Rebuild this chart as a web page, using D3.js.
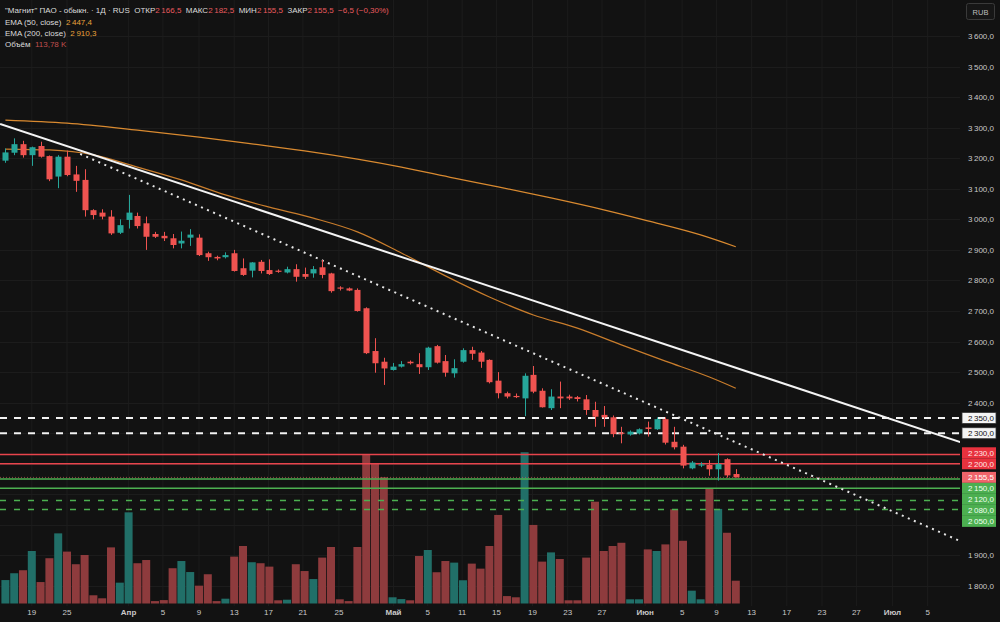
<!DOCTYPE html>
<html>
<head>
<meta charset="utf-8">
<script src="https://cdn.jsdelivr.net/npm/d3@7"></script>
<style>
  body { margin: 0; background: #121212; }
  svg { display: block; }
  text { font-family: "Liberation Sans", Arial, sans-serif; }
</style>
</head>
<body>
<div id="chart"></div>
<script>
// daily bars (index 0 = first visible bar)
const opens  = [3192,3218,3246,3210,3240,3207,3140,3205,3147,3129,3030,3022,3009,2956,2998,3011,2987,2952,2946,2938,2921,2940,2940,2889,2877,2876,2889,2840,2832,2861,2834,2832,2826,2837,2821,2823,2843,2823,2777,2774,2769,2709,2569,2534,2507,2518,2534,2526,2516,2585,2536,2496,2534,2572,2564,2540,2472,2431,2422,2414,2491,2439,2382,2420,2420,2418,2411,2376,2360,2352,2302,2296,2299,2319,2313,2346,2272,2256,2185,2196,2196,2182,2215,2166.5];
const highs  = [3232,3265,3257,3238,3254,3209,3210,3225,3175,3164,3033,3033,3030,3000,3080,3022,3009,2959,2959,2952,2960,2968,2951,2894,2881,2892,2900,2872,2860,2867,2869,2836,2845,2853,2842,2847,2867,2825,2781,2777,2774,2712,2611,2547,2530,2536,2538,2562,2583,2589,2556,2542,2578,2583,2569,2542,2500,2436,2430,2496,2520,2447,2444,2469,2426,2422,2425,2403,2389,2358,2321,2309,2316,2338,2352,2352,2321,2262,2209,2205,2212,2235,2218,2182.5];
const lows   = [3185,3210,3202,3175,3202,3125,3102,3141,3090,3009,3000,3000,2949,2952,2970,2970,2900,2939,2929,2905,2905,2913,2880,2864,2866,2872,2829,2815,2810,2823,2818,2825,2823,2796,2805,2809,2807,2760,2767,2765,2698,2559,2498,2458,2505,2515,2525,2494,2507,2528,2485,2482,2531,2540,2514,2463,2414,2414,2415,2356,2431,2384,2376,2382,2409,2404,2360,2321,2321,2287,2267,2292,2296,2289,2311,2263,2247,2185,2182,2189,2161,2145,2155,2155.5];
const closes = [3219,3246,3210,3236,3205,3131,3205,3145,3126,3030,3014,3009,2954,2981,3022,2978,2943,2943,2938,2916,2930,2950,2883,2876,2872,2883,2831,2818,2859,2831,2821,2829,2837,2812,2812,2837,2818,2765,2774,2767,2700,2562,2529,2512,2518,2526,2529,2516,2580,2531,2498,2513,2572,2560,2534,2467,2431,2420,2420,2488,2436,2385,2420,2414,2414,2412,2376,2354,2352,2297,2300,2305,2313,2314,2346,2269,2254,2194,2204,2198,2182,2199,2162,2155.5];
// volume, thousands of shares
const volumes = [117,151,166,262,107,226,350,259,196,242,41,26,280,104,455,201,217,12,17,176,212,157,89,146,12,24,234,287,206,201,184,16,19,196,162,122,229,282,21,12,282,741,700,630,31,22,16,237,267,156,212,204,116,199,174,287,442,37,31,755,392,209,255,222,16,16,229,508,262,287,303,21,21,270,262,295,470,313,64,21,575,472,353,113.78];

// moving averages read at a few bars
const ema50Idx   = [0,5,10,15,20,25,30,35,40,45,50,55,60,65,70,75,80,83];
const ema50Vals  = [3230,3227,3211,3171,3129,3080,3040,3004,2959,2890,2815,2746,2687,2644,2589,2536,2484,2447.4];
const ema200Idx  = [0,7,15,22,28,34,40,45,51,56,62,68,73,79,83];
const ema200Vals = [3325,3315,3292,3269,3247,3224,3197,3171,3135,3106,3070,3031,2995,2949,2910.3];

// drawn levels and trend lines
const resistDashed = [2350, 2300];
const resistSolid  = [2230, 2200];
const supportSolid = [2150, 2120];
const supportDashed = [2080, 2050];
const trendSolid  = [[-0.6, 3312], [108.5, 2271]];
const trendDotted = [[8.5, 3214], [108.5, 1947]];

// axes
const priceTicks = [3600,3500,3400,3300,3200,3100,3000,2900,2800,2700,2600,2500,2400,1900,1800];
const gridPrices = [3600,3500,3400,3300,3200,3100,3000,2900,2800,2700,2600,2500,2400,2300,2200,2100,2000,1900,1800];
const dateLabels = ["19","25","Апр","5","9","13","17","21","25","Май","5","11","15","19","23","27","Июн","5","9","13","17","23","27","Июл","5"];
const dateIdx    = [3.0,7.0,14.0,17.9,22.0,26.0,29.9,33.8,37.9,44.1,48.0,51.9,55.8,59.9,63.9,67.8,72.7,76.9,80.8,84.8,88.8,92.8,96.7,100.8,104.8];
const monthLabels = ["Апр","Май","Июн","Июл"];

const W = 1000, H = 622;
const plotW = 960, plotH = 606;
const UP = "#26a69a", DOWN = "#ef5350";
const VOL_UP = "#216f68", VOL_DOWN = "#8e3b3d";
const LVL_RED = "#e8444c", LVL_GREEN = "#4caf50";

const loc = d3.formatLocale({ decimal: ",", thousands: "\u2009", grouping: [3], minus: "\u2212" });
const fmt = loc.format(",.1f");

const x = d3.scaleLinear().domain([-0.614, 108.48]).range([0, plotW]);
const y = d3.scaleLinear().domain([1800, 3600]).range([586, 36]);
const yVol = d3.scaleLinear().domain([0, 760]).range([603.5, 451.2]);

const svg = d3.select("#chart").append("svg")
  .attr("width", W).attr("height", H)
  .attr("viewBox", `0 0 ${W} ${H}`);

svg.append("rect").attr("width", W).attr("height", H).attr("fill", "#121212");

svg.append("clipPath").attr("id", "plot-clip")
  .append("rect").attr("width", plotW).attr("height", plotH);

const plot = svg.append("g").attr("clip-path", "url(#plot-clip)");

// grid
plot.selectAll(".vgrid").data(dateIdx).enter().append("line")
  .attr("x1", d => x(d)).attr("x2", d => x(d))
  .attr("y1", 0).attr("y2", plotH)
  .attr("stroke", "#1c1c1c").attr("stroke-width", 1);
plot.selectAll(".hgrid").data(gridPrices).enter().append("line")
  .attr("x1", 0).attr("x2", plotW)
  .attr("y1", d => Math.round(y(d)) + 0.5).attr("y2", d => Math.round(y(d)) + 0.5)
  .attr("stroke", "#1c1c1c").attr("stroke-width", 1);

const bars = closes.map((c, i) => ({ i, o: opens[i], h: highs[i], l: lows[i], c, v: volumes[i] }));

// volume
plot.selectAll(".vol").data(bars).enter().append("rect")
  .attr("x", d => x(d.i) - 4).attr("width", 8)
  .attr("y", d => yVol(d.v))
  .attr("height", d => yVol(0) - yVol(d.v))
  .attr("fill", d => d.c >= d.o ? VOL_UP : VOL_DOWN);

// horizontal levels
function levels(vals, color, dash, width) {
  plot.selectAll(null).data(vals).enter().append("line")
    .attr("x1", 0).attr("x2", plotW)
    .attr("y1", d => y(d)).attr("y2", d => y(d))
    .attr("stroke", color).attr("stroke-width", width)
    .attr("stroke-dasharray", dash);
}
levels(resistDashed, "#f2f2f2", "7,7", 2);
levels(resistSolid, LVL_RED, null, 1.5);
levels(supportSolid, LVL_GREEN, null, 1.5);
levels(supportDashed, LVL_GREEN, "6,8", 1.5);

// last price line
const lastPrice = closes[closes.length - 1];
plot.append("line")
  .attr("x1", 0).attr("x2", plotW)
  .attr("y1", y(lastPrice)).attr("y2", y(lastPrice))
  .attr("stroke", "#c85a5a").attr("stroke-width", 1)
  .attr("stroke-dasharray", "1,2").attr("opacity", 0.7);

// EMAs
const emaLine = d3.line().x(d => x(d[0])).y(d => y(d[1])).curve(d3.curveMonotoneX);
plot.append("path")
  .datum(ema200Idx.map((d, k) => [d, ema200Vals[k]]))
  .attr("d", emaLine).attr("fill", "none")
  .attr("stroke", "#d98a30").attr("stroke-width", 1.2);
plot.append("path")
  .datum(ema50Idx.map((d, k) => [d, ema50Vals[k]]))
  .attr("d", emaLine).attr("fill", "none")
  .attr("stroke", "#c97d2c").attr("stroke-width", 1.2);

// trend lines
plot.append("line")
  .attr("x1", x(trendSolid[0][0])).attr("y1", y(trendSolid[0][1]))
  .attr("x2", x(trendSolid[1][0])).attr("y2", y(trendSolid[1][1]))
  .attr("stroke", "#f4f4f4").attr("stroke-width", 2);
plot.append("line")
  .attr("x1", x(trendDotted[0][0])).attr("y1", y(trendDotted[0][1]))
  .attr("x2", x(trendDotted[1][0])).attr("y2", y(trendDotted[1][1]))
  .attr("stroke", "#e6e6e6").attr("stroke-width", 2)
  .attr("stroke-dasharray", "2,4.6");

// candles
const candle = plot.selectAll(".candle").data(bars).enter().append("g");
candle.append("line")
  .attr("x1", d => Math.round(x(d.i)) + 0.5).attr("x2", d => Math.round(x(d.i)) + 0.5)
  .attr("y1", d => y(d.h)).attr("y2", d => y(d.l))
  .attr("stroke", d => d.c >= d.o ? UP : DOWN).attr("stroke-width", 1);
candle.append("rect")
  .attr("x", d => Math.round(x(d.i)) - 2.5).attr("width", 6)
  .attr("y", d => y(Math.max(d.o, d.c)))
  .attr("height", d => Math.max(1.2, Math.abs(y(d.o) - y(d.c))))
  .attr("fill", d => d.c >= d.o ? UP : DOWN);

// price axis labels
svg.selectAll(".ptick").data(priceTicks).enter().append("text")
  .attr("x", 994).attr("y", d => y(d) + 3)
  .attr("text-anchor", "end").attr("font-size", 8)
  .attr("fill", "#c9c9c9")
  .text(d => fmt(d));

// date labels
svg.selectAll(".dtick").data(dateLabels).enter().append("text")
  .attr("x", (d, k) => x(dateIdx[k])).attr("y", 615)
  .attr("text-anchor", "middle").attr("font-size", 8)
  .attr("font-weight", d => monthLabels.includes(d) ? "bold" : null)
  .attr("fill", "#c9c9c9")
  .text(d => d);

// price tags on the right, stacked around the last price
const tagH = 11;
const tags = [
  ...resistDashed.map(p => ({ p, bg: "#f4f4f4", fg: "#111", border: "#333" })),
  ...resistSolid.map(p => ({ p, bg: "#e8323e", fg: "#ffe6e6" })),
  { p: lastPrice, bg: "#f0646a", fg: "#fff", fixed: true },
  ...supportSolid.map(p => ({ p, bg: "#4caf50", fg: "#f0fff0" })),
  ...supportDashed.map(p => ({ p, bg: "#4caf50", fg: "#f0fff0" }))
];
tags.forEach(t => t.ty = y(t.p));
tags.sort((a, b) => a.ty - b.ty);
const fi = tags.findIndex(t => t.fixed);
for (let k = fi + 1; k < tags.length; k++) tags[k].ty = Math.max(tags[k].ty, tags[k - 1].ty + tagH);
for (let k = fi - 1; k >= 0; k--) tags[k].ty = Math.min(tags[k].ty, tags[k + 1].ty - tagH);

const tagG = svg.selectAll(".tag").data(tags).enter().append("g");
tagG.append("rect")
  .attr("x", 962).attr("width", 34)
  .attr("y", d => d.ty - tagH / 2).attr("height", tagH)
  .attr("fill", d => d.bg)
  .attr("stroke", d => d.border || "none").attr("stroke-width", 0.8);
tagG.append("text")
  .attr("x", 994).attr("y", d => d.ty + 3)
  .attr("text-anchor", "end").attr("font-size", 8)
  .attr("fill", d => d.fg)
  .text(d => fmt(d.p));

// currency box
svg.append("rect").attr("x", 966.5).attr("y", 3.5).attr("width", 28).attr("height", 16)
  .attr("rx", 2).attr("fill", "#161616").attr("stroke", "#3a3a3a");
svg.append("text").attr("x", 980.5).attr("y", 14.5).attr("text-anchor", "middle")
  .attr("font-size", 7.5).attr("fill", "#bdbdbd").text("RUB");

// legend
const n = closes.length - 1;
const chg = closes[n] - closes[n - 1];
const chgPct = chg / closes[n - 1] * 100;
const RED_TXT = "#e85a5f", ORANGE_TXT = "#e9a23b", WHITE_TXT = "#dcdcdc";
const legend = svg.append("g").attr("font-size", 8);
function legendLine(yy, parts) {
  const t = legend.append("text").attr("x", 5).attr("y", yy);
  parts.forEach(([s, c]) => t.append("tspan").attr("fill", c).text(s));
}
const nb = "\u00a0";
legendLine(13, [
  [`"Магнит" ПАО - обыкн. · 1Д · RUS${nb}${nb}`, WHITE_TXT],
  ["ОТКР", WHITE_TXT], [fmt(opens[n]) + nb + nb, RED_TXT],
  ["МАКС", WHITE_TXT], [fmt(highs[n]) + nb + nb, RED_TXT],
  ["МИН", WHITE_TXT], [fmt(lows[n]) + nb + nb, RED_TXT],
  ["ЗАКР", WHITE_TXT], [fmt(closes[n]) + nb + nb, RED_TXT],
  [`${loc.format(",.1f")(chg)} (${loc.format(",.2f")(chgPct)}%)`, RED_TXT]
]);
legendLine(24.5, [["EMA (50, close)" + nb + nb, WHITE_TXT], [fmt(ema50Vals[ema50Vals.length - 1]), ORANGE_TXT]]);
legendLine(35.5, [["EMA (200, close)" + nb + nb, WHITE_TXT], [fmt(ema200Vals[ema200Vals.length - 1]), ORANGE_TXT]]);
legendLine(46.5, [["Объём" + nb + nb, WHITE_TXT], [loc.format(",.2f")(volumes[n]) + nb + "K", "#c0504f"]]);
</script>
</body>
</html>
